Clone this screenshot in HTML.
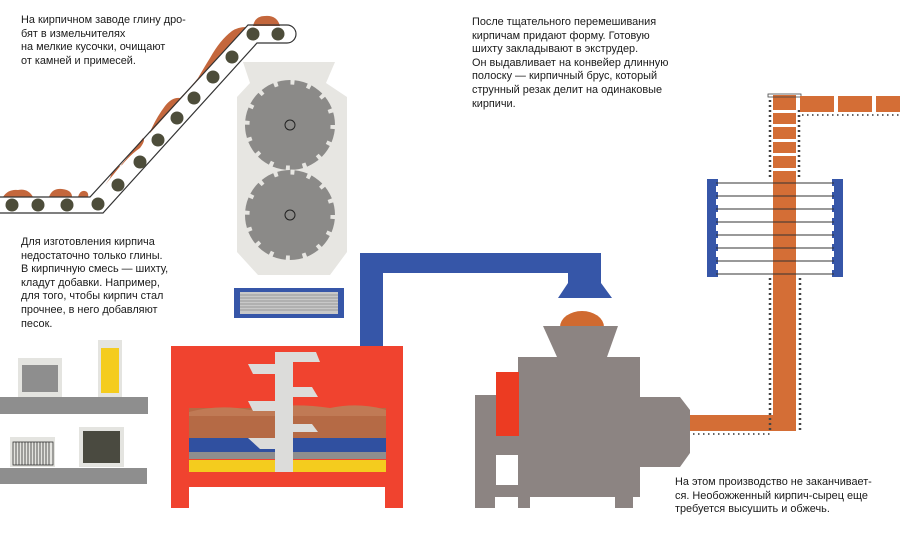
<!DOCTYPE html>
<html><head><meta charset="utf-8"><style>
html,body{margin:0;padding:0;background:#fff;}
.t{position:absolute;font-family:"Liberation Sans","DejaVu Sans",sans-serif;font-size:10.9px;line-height:13.6px;color:#1a1a1a;white-space:nowrap;}
</style></head><body>
<div style="position:relative;width:900px;height:533px;overflow:hidden;background:#fff;">
<svg width="900" height="533" viewBox="0 0 900 533" style="position:absolute;left:0;top:0">
<g fill="#c4673c">
<path d="M3,197 Q8,189 18,190 Q28,188 33,197Z"/>
<path d="M49,197 Q52,188 62,189 Q72,190 72,197Z"/>
<path d="M78,197 Q80,190 85,191 Q89,192 88,197Z"/>
<path d="M110,178 Q113,168 122,165 Q130,155 140,148 Q146,140 143,138 L105,185Z"/>
<path d="M150,132 Q156,118 165,106 Q172,97 180,98 Q190,88 198,78 Q205,66 210,58 Q220,40 232,31 Q238,27 246,27 L150,133Z"/>
<path d="M253,26 Q255,16 265,16 Q277,15 280,26Z"/>
</g>
<path d="M0,197 L90,197 L248,25 L287,25 A9,9 0 0 1 287,43 L257,43 L103,213 L0,213" fill="none" stroke="#333" stroke-width="1.2"/>
<g fill="#4d4d3a">
<circle cx="12" cy="205" r="6.5"/><circle cx="38" cy="205" r="6.5"/><circle cx="67" cy="205" r="6.5"/><circle cx="98" cy="204" r="6.5"/>
<circle cx="118" cy="185" r="6.5"/><circle cx="140" cy="162" r="6.5"/><circle cx="158" cy="140" r="6.5"/><circle cx="177" cy="118" r="6.5"/><circle cx="194" cy="98" r="6.5"/><circle cx="213" cy="77" r="6.5"/><circle cx="232" cy="57" r="6.5"/><circle cx="253" cy="34" r="6.5"/><circle cx="278" cy="34" r="6.5"/>
</g>
<path d="M243,62 L335,62 L326,83 L347,97 L347,252 L330,275 L258,275 L237,252 L237,97 L250,83Z" fill="#e7e6e2"/>
<circle cx="290" cy="125" r="45" fill="#8b8a88"/>
<circle cx="290" cy="125" r="43" fill="none" stroke="#e7e6e2" stroke-width="5" stroke-dasharray="4 12.9"/>
<circle cx="290" cy="125" r="5" fill="none" stroke="#222" stroke-width="1"/>
<circle cx="290" cy="215" r="45" fill="#8b8a88"/>
<circle cx="290" cy="215" r="43" fill="none" stroke="#e7e6e2" stroke-width="5" stroke-dasharray="4 12.9"/>
<circle cx="290" cy="215" r="5" fill="none" stroke="#222" stroke-width="1"/>
<rect x="234" y="288" width="110" height="30" fill="#3656a8"/>
<rect x="240" y="292" width="98" height="22" fill="#c8c8c8"/>
<g stroke="#666" stroke-width="0.5"><path d="M240,295H338M240,298H338M240,301H338M240,304H338M240,307H338M240,310H338"/></g>
<path d="M360,253 L601,253 L601,283 L612,298 L558,298 L568,283 L568,273 L383,273 L383,346 L360,346Z" fill="#3656a8"/>
<path d="M171,346 L403,346 L403,508 L385,508 L385,487 L189,487 L189,508 L171,508Z" fill="#f0432f"/>
<rect x="189" y="408" width="197" height="30" fill="#b56a45"/>
<path d="M189,412 Q220,404 250,410 Q290,402 330,408 Q360,402 386,410 L386,416 L189,416Z" fill="#c07a55"/>
<rect x="189" y="438" width="197" height="14" fill="#3050a0"/>
<rect x="189" y="452" width="197" height="7" fill="#8e8e8e"/>
<rect x="189" y="460" width="197" height="12" fill="#f4cc1e"/>
<g fill="#dcdcda">
<rect x="275" y="352" width="18" height="120"/>
<path d="M293,352 L316,352 L320,362 L293,362Z"/><path d="M293,387 L312,387 L318,397 L293,397Z"/><path d="M293,424 L312,424 L318,432 L293,432Z"/>
<path d="M248,364 L275,364 L275,374 L253,374Z"/><path d="M248,401 L275,401 L275,411 L253,411Z"/><path d="M248,438 L275,438 L275,449 L260,449Z"/>
</g>
<rect x="0" y="397" width="148" height="17" fill="#8e8e8e"/>
<rect x="0" y="468" width="147" height="16" fill="#8e8e8e"/>
<rect x="18" y="358" width="44" height="39" fill="#e4e4e0"/><rect x="22" y="365" width="36" height="27" fill="#8e8e8e"/>
<rect x="98" y="340" width="24" height="57" fill="#e4e4e0"/><rect x="101" y="348" width="18" height="45" fill="#f4cc1e"/>
<rect x="10" y="437" width="45" height="30" fill="#e4e4e0"/><rect x="13" y="442" width="40" height="23" fill="none" stroke="#333" stroke-width="0.8"/>
<path d="M16,442v23M19,442v23M22,442v23M25,442v23M28,442v23M31,442v23M34,442v23M37,442v23M40,442v23M43,442v23M46,442v23M49,442v23" stroke="#333" stroke-width="0.8"/>
<rect x="79" y="427" width="45" height="40" fill="#e4e4e0"/><rect x="83" y="431" width="37" height="32" fill="#4a4a40"/>
<path d="M560,327 A22,16 0 0 1 604,327Z" fill="#d06a30"/>
<path d="M543,326 L618,326 L607,357 L640,357 L640,397 L680,397 L690,410 L690,453 L680,467 L640,467 L640,497 L633,497 L633,508 L615,508 L615,497 L530,497 L530,508 L518,508 L518,497 L495,497 L495,508 L475,508 L475,395 L518,395 L518,357 L557,357Z" fill="#8c8482"/>
<rect x="496" y="372" width="23" height="64" fill="#ec3b22"/>
<rect x="496" y="455" width="22" height="30" fill="#fff"/>
<rect x="690" y="415" width="83" height="16" fill="#d46e36"/>
<line x1="693" y1="434" x2="771" y2="434" stroke="#333" stroke-width="1.6" stroke-dasharray="1.5 3.5"/>
<rect x="773" y="95" width="23" height="336" fill="#d46e36"/>
<g fill="#fff"><rect x="773" y="110" width="23" height="3"/><rect x="773" y="124" width="23" height="3"/><rect x="773" y="139" width="23" height="3"/><rect x="773" y="153" width="23" height="3"/><rect x="773" y="168" width="23" height="3"/></g>
<line x1="770" y1="100" x2="770" y2="178" stroke="#444" stroke-width="2.5" stroke-dasharray="2 3"/>
<line x1="799" y1="110" x2="799" y2="178" stroke="#444" stroke-width="2.5" stroke-dasharray="2 3"/>
<line x1="770" y1="278" x2="770" y2="432" stroke="#444" stroke-width="2.5" stroke-dasharray="2 3"/>
<line x1="800" y1="278" x2="800" y2="432" stroke="#444" stroke-width="2.5" stroke-dasharray="2 3"/>
<rect x="768" y="94" width="33" height="3" fill="none" stroke="#444" stroke-width="0.8"/>
<rect x="800" y="96" width="34" height="16" fill="#d46e36"/><rect x="838" y="96" width="34" height="16" fill="#d46e36"/><rect x="876" y="96" width="24" height="16" fill="#d46e36"/>
<line x1="802" y1="115" x2="900" y2="115" stroke="#333" stroke-width="1.6" stroke-dasharray="1.5 3.5"/>
<rect x="707" y="179" width="11" height="98" fill="#3656a8"/>
<rect x="832" y="179" width="11" height="98" fill="#3656a8"/>
<g stroke="#333" stroke-width="0.9">
<line x1="716" y1="183" x2="834" y2="183"/><line x1="716" y1="196" x2="834" y2="196"/><line x1="716" y1="209" x2="834" y2="209"/><line x1="716" y1="222" x2="834" y2="222"/><line x1="716" y1="235" x2="834" y2="235"/><line x1="716" y1="248" x2="834" y2="248"/><line x1="716" y1="261" x2="834" y2="261"/><line x1="716" y1="274" x2="834" y2="274"/>
</g>
<g fill="#fff"><rect x="716" y="186" width="4" height="6"/><rect x="716" y="199" width="4" height="6"/><rect x="716" y="212" width="4" height="6"/><rect x="716" y="225" width="4" height="6"/><rect x="716" y="238" width="4" height="6"/><rect x="716" y="251" width="4" height="6"/><rect x="716" y="264" width="4" height="6"/>
<rect x="830" y="186" width="4" height="6"/><rect x="830" y="199" width="4" height="6"/><rect x="830" y="212" width="4" height="6"/><rect x="830" y="225" width="4" height="6"/><rect x="830" y="238" width="4" height="6"/><rect x="830" y="251" width="4" height="6"/><rect x="830" y="264" width="4" height="6"/></g>
</svg>
<div class="t" style="left:21px;top:14px">На кирпичном заводе глину дро-<br>бят в измельчителях<br>на мелкие кусочки, очищают<br>от камней и примесей.</div>
<div class="t" style="left:21px;top:236px">Для изготовления кирпича<br>недостаточно только глины.<br>В кирпичную смесь — шихту,<br>кладут добавки. Например,<br>для того, чтобы кирпич стал<br>прочнее, в него добавляют<br>песок.</div>
<div class="t" style="left:472px;top:16px">После тщательного перемешивания<br>кирпичам придают форму. Готовую<br>шихту закладывают в экструдер.<br>Он выдавливает на конвейер длинную<br>полоску — кирпичный брус, который<br>струнный резак делит на одинаковые<br>кирпичи.</div>
<div class="t" style="left:675px;top:476px">На этом производство не заканчивает-<br>ся. Необожженный кирпич-сырец еще<br>требуется высушить и обжечь.</div>
</div>
</body></html>
